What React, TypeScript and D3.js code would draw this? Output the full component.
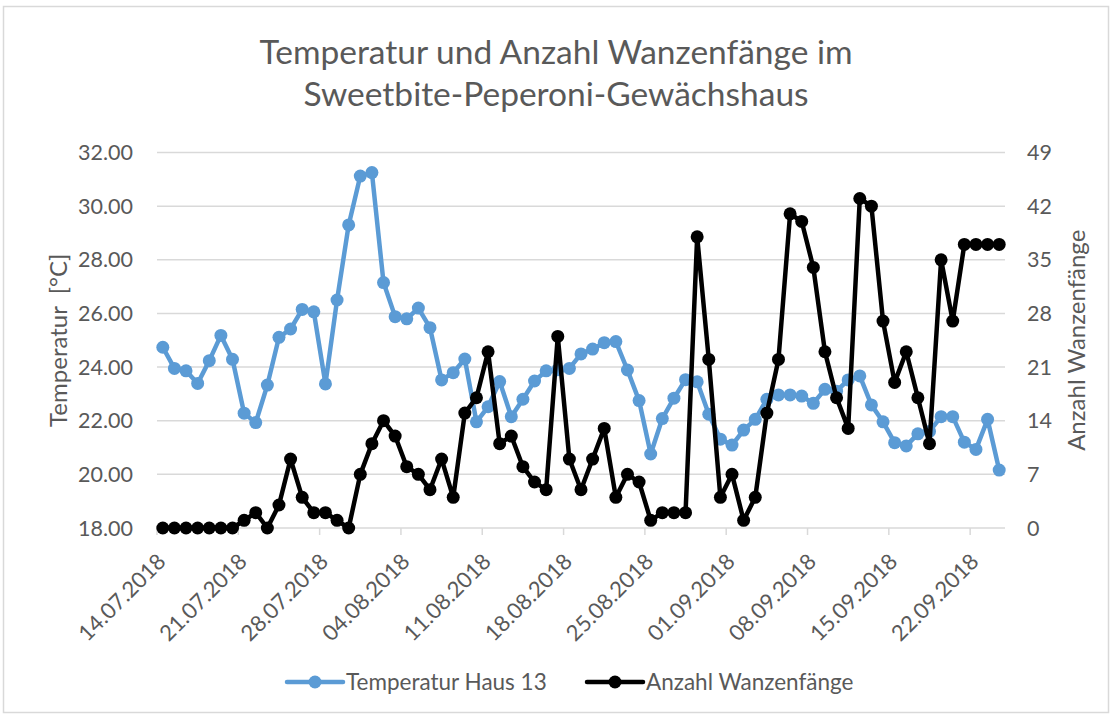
import React from 'react';
import * as d3 from 'd3';

// daily readings, 14.07.2018 - 24.09.2018
const firstDay = '14.07.2018';
const lastDay = '24.09.2018';

const temperature = [
  24.74, 23.95, 23.86, 23.39, 24.24, 25.18, 24.29, 22.28, 21.93, 23.33,
  25.11, 25.42, 26.15, 26.06, 23.37, 26.5, 29.3, 31.12, 31.25, 27.15,
  25.88, 25.8, 26.2, 25.47, 23.52, 23.79, 24.3, 21.96, 22.52, 23.46,
  22.15, 22.8, 23.48, 23.86, 23.9, 23.95, 24.49, 24.67, 24.91, 24.95,
  23.89, 22.75, 20.76, 22.08, 22.84, 23.53, 23.45, 22.24, 21.31, 21.09,
  21.65, 22.05, 22.8, 22.96, 22.96, 22.92, 22.65, 23.17, 23.1, 23.52,
  23.67, 22.59, 21.96, 21.18, 21.06, 21.51, 21.6, 22.15, 22.15, 21.2,
  20.93, 22.05, 20.16,
];

const bugCount = [
  0, 0, 0, 0, 0, 0, 0, 1, 2, 0,
  3, 9, 4, 2, 2, 1, 0, 7, 11, 14,
  12, 8, 7, 5, 9, 4, 15, 17, 23, 11,
  12, 8, 6, 5, 25, 9, 5, 9, 13, 4,
  7, 6, 1, 2, 2, 2, 38, 22, 4, 7,
  1, 4, 15, 22, 41, 40, 34, 23, 17, 13,
  43, 42, 27, 19, 23, 17, 11, 35, 27, 37,
  37, 37, 37,
];

const dateTicks = [
  '14.07.2018', '21.07.2018', '28.07.2018', '04.08.2018', '11.08.2018', '18.08.2018',
  '25.08.2018', '01.09.2018', '08.09.2018', '15.09.2018', '22.09.2018',
];
const tempTicks = [18, 20, 22, 24, 26, 28, 30, 32];
const countTicks = [0, 7, 14, 21, 28, 35, 42, 49];

const seriesNames = ['Temperatur Haus 13', 'Anzahl Wanzenfänge'];
const colors = ['#5B9BD5', '#000000'];

const W = 1112;
const H = 716;
const plot = { left: 157, right: 1005, top: 152.5, bottom: 528 };
const font = "Lato, 'Open Sans', sans-serif";
const grey = '#595959';

export default function App() {
  const parse = d3.utcParse('%d.%m.%Y');
  const days = d3.utcDay.range(parse(firstDay)!, d3.utcDay.offset(parse(lastDay)!, 1));

  const x = d3.scaleUtc()
    .domain([parse(firstDay)!, d3.utcDay.offset(parse(lastDay)!, 1)])
    .range([plot.left, plot.right]);
  const yTemp = d3.scaleLinear().domain([18, 32]).range([plot.bottom, plot.top]);
  const yCount = d3.scaleLinear().domain([0, 49]).range([plot.bottom, plot.top]);

  // points sit in the middle of each day
  const mid = (d: Date) => x(d3.utcHour.offset(d, 12));

  const tempPts = days.map((d, i) => [mid(d), yTemp(temperature[i])] as [number, number]);
  const countPts = days.map((d, i) => [mid(d), yCount(bugCount[i])] as [number, number]);
  const line = d3.line();

  const series = [tempPts, countPts];

  return (
    <svg width={W} height={H} style={{ position: 'absolute', left: 0, top: 0, background: '#fff' }}
      fontFamily={font}>
      <rect x={3.5} y={6.5} width={W - 7} height={H - 10} fill="#fff" stroke="#d9d9d9" strokeWidth={1.5} />

      <text x={W / 2} y={64} textAnchor="middle" fontSize={33.5} fill={grey}>
        Temperatur und Anzahl Wanzenfänge im
      </text>
      <text x={W / 2} y={106} textAnchor="middle" fontSize={33.5} fill={grey}>
        Sweetbite-Peperoni-Gewächshaus
      </text>

      {tempTicks.map(t => (
        <g key={'g' + t}>
          <line x1={plot.left} x2={plot.right} y1={yTemp(t)} y2={yTemp(t)} stroke="#d9d9d9" strokeWidth={1.5} />
          <text x={133} y={yTemp(t)} dy="0.35em" textAnchor="end" fontSize={21.5} fill={grey}>
            {t.toFixed(2)}
          </text>
        </g>
      ))}
      {countTicks.map(t => (
        <text key={'c' + t} x={1027} y={yCount(t)} dy="0.35em" fontSize={21.5} fill={grey}>{t}</text>
      ))}

      {dateTicks.map(s => {
        const tx = x(parse(s)!);
        return (
          <g key={s}>
            <line x1={tx} x2={tx} y1={plot.bottom} y2={plot.bottom + 7} stroke="#d9d9d9" strokeWidth={1.5} />
            <text transform={`translate(${tx + 10},${plot.bottom + 35}) rotate(-45)`} textAnchor="end"
              fontSize={22} fill={grey}>{s}</text>
          </g>
        );
      })}

      <text transform={`translate(67,${(plot.top + plot.bottom) / 2}) rotate(-90)`} textAnchor="middle"
        fontSize={24} fill={grey} style={{ whiteSpace: 'pre' }}>Temperatur  [°C]</text>
      <text transform={`translate(1085,${(plot.top + plot.bottom) / 2}) rotate(-90)`} textAnchor="middle"
        fontSize={24} fill={grey}>Anzahl Wanzenfänge</text>

      {series.map((pts, k) => (
        <g key={k}>
          <path d={line(pts) ?? ''} fill="none" stroke={colors[k]} strokeWidth={4.5} strokeLinejoin="round" />
          {pts.map((p, i) => (
            <circle key={i} cx={p[0]} cy={p[1]} r={6.5} fill={colors[k]} />
          ))}
        </g>
      ))}

      {seriesNames.map((name, k) => {
        const lx = k === 0 ? 287 : 587;
        const ly = 682;
        return (
          <g key={name}>
            <line x1={lx} x2={lx + 56} y1={ly} y2={ly} stroke={colors[k]} strokeWidth={4.5} strokeLinecap="round" />
            <circle cx={lx + 28} cy={ly} r={6.5} fill={colors[k]} />
            <text x={lx + 59} y={ly} dy="0.35em" fontSize={22.5} fill={grey}>{name}</text>
          </g>
        );
      })}
    </svg>
  );
}
